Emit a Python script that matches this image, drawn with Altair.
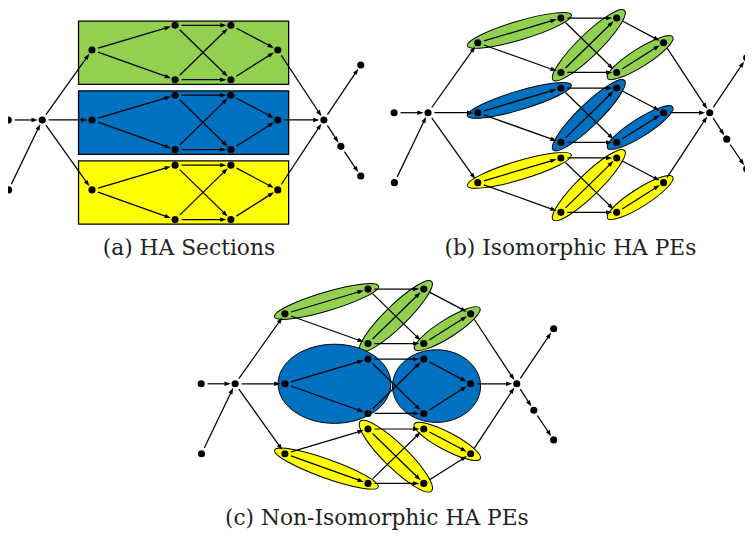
import math
import altair as alt
import pandas as pd

# ---------------- data ----------------
# Outer nodes of the graph (offsets in px from the first source node of a panel)
NODE_NAMES = ["src1", "src2", "hub", "sink", "out1", "out2", "out3"]
NODE_DX = [0.0, 0.3, 34.3, 319.0, 356.3, 336.2, 356.3]
NODE_DY = [0.0, 70.7, 0.0, 0.0, -55.6, 26.7, 56.7]

# The three HA sections (rows)
ROWS = ["green", "blue", "yellow"]
ROW_DY = [-70.7, 0.0, 70.7]
ROW_COLORS = ["#92D050", "#0070C0", "#FFFF00"]

# Nodes inside one section
SEC_NODES = ["n1", "n2", "n3", "n4", "n5", "n6"]
SEC_DX = [84.6, 168.6, 168.6, 225.0, 225.0, 272.4]
SEC_DY = [0.0, -25.0, 30.0, -25.0, 30.0, 0.0]

SEC_EDGES = [("n1", "n2"), ("n1", "n3"), ("n2", "n4"), ("n2", "n5"),
             ("n3", "n4"), ("n3", "n5"), ("n4", "n6"), ("n5", "n6")]
OUTER_EDGES = [("src1", "hub"), ("src2", "hub"), ("sink", "out1"),
               ("sink", "out2"), ("out2", "out3")]

# Panels
PANELS = ["a", "b", "c"]
PANEL_X = [8.3, 398.3, 203.3]
PANEL_Y = [118.3, 111.0, 385.0]
CAPTIONS = ["(a) HA Sections", "(b) Isomorphic HA PEs", "(c) Non-Isomorphic HA PEs"]
CAPTION_X = [190.9, 576.5, 380.8]
CAPTION_Y = [255.3, 255.0, 527.3]

# Section boxes of panel (a), relative to the row centre
BOX_X = [71.0, 283.4]
BOX_Y = [-29.3, 34.7]

# PE ellipses built around two nodes: panel, row, first node, second node, half-thickness
PE_PANEL = ["b"] * 9 + ["c"] * 3 + ["c"] * 3
PE_ROW = (["green"] * 3 + ["blue"] * 3 + ["yellow"] * 3 + ["green"] * 3 + ["yellow"] * 3)
PE_A = ["n1", "n3", "n5"] * 4 + ["n1", "n2", "n4"]
PE_B = ["n2", "n4", "n6"] * 4 + ["n3", "n5", "n6"]
PE_SEMI_MINOR = [9.5, 11.0, 9.0] * 4 + [9.5, 12.0, 9.0]
PE_EXTEND = 11.0

# Large blue PEs of panel (c): centre offsets, radii
BIG_DX = [134.7, 237.9]
BIG_DY = [0.0, 2.3]
BIG_RX = [57.0, 44.5]
BIG_RY = [40.0, 36.7]

# ---------------- build tables ----------------
nodes = {}
for p, ox, oy in zip(PANELS, PANEL_X, PANEL_Y):
    for n, dx, dy in zip(NODE_NAMES, NODE_DX, NODE_DY):
        nodes[(p, n)] = (ox + dx, oy + dy)
    for r, rdy in zip(ROWS, ROW_DY):
        for n, dx, dy in zip(SEC_NODES, SEC_DX, SEC_DY):
            nodes[(p, f"{r}_{n}")] = (ox + dx, oy + rdy + dy)

node_df = pd.DataFrame([{"x": v[0], "y": v[1]} for v in nodes.values()])

START_GAP, TIP_GAP, HEAD = 6.5, 4.5, 3.0
edge_rows, head_rows = [], []
for p in PANELS:
    pairs = list(OUTER_EDGES)
    for r in ROWS:
        pairs.append(("hub", f"{r}_n1"))
        pairs.append((f"{r}_n6", "sink"))
        pairs += [(f"{r}_{a}", f"{r}_{b}") for a, b in SEC_EDGES]
    for a, b in pairs:
        x1, y1 = nodes[(p, a)]
        x2, y2 = nodes[(p, b)]
        d = math.hypot(x2 - x1, y2 - y1)
        ux, uy = (x2 - x1) / d, (y2 - y1) / d
        tx, ty = x2 - TIP_GAP * ux, y2 - TIP_GAP * uy
        edge_rows.append({"x": x1 + START_GAP * ux, "y": y1 + START_GAP * uy,
                          "x2": tx - HEAD * ux, "y2": ty - HEAD * uy})
        head_rows.append({"x": tx, "y": ty,
                          "ang": math.degrees(math.atan2(uy, ux)) % 360})
edge_df = pd.DataFrame(edge_rows)
head_df = pd.DataFrame(head_rows)

color_of = dict(zip(ROWS, ROW_COLORS))


def ellipse_path(ratio):
    return (f"M -1 0 A 1 {ratio:.4f} 0 1 1 1 0 "
            f"A 1 {ratio:.4f} 0 1 1 -1 0 Z")


ell_rows = []
for p, r, a, b, sm in zip(PE_PANEL, PE_ROW, PE_A, PE_B, PE_SEMI_MINOR):
    x1, y1 = nodes[(p, f"{r}_{a}")]
    x2, y2 = nodes[(p, f"{r}_{b}")]
    rx = math.hypot(x2 - x1, y2 - y1) / 2 + PE_EXTEND
    ell_rows.append({"x": (x1 + x2) / 2, "y": (y1 + y2) / 2,
                     "ang": math.degrees(math.atan2(y2 - y1, x2 - x1)) % 360,
                     "size": (2 * rx) ** 2, "shape": ellipse_path(sm / rx),
                     "col": color_of[r], "ord": ROWS.index(r)})
cx, cy = PANEL_X[2], PANEL_Y[2]
for dx, dy, rx, ry in zip(BIG_DX, BIG_DY, BIG_RX, BIG_RY):
    ell_rows.append({"x": cx + dx, "y": cy + dy, "ang": 0.0,
                     "size": (2 * rx) ** 2, "shape": ellipse_path(ry / rx),
                     "col": color_of["blue"], "ord": 1})
ell_df = pd.DataFrame(ell_rows).sort_values("ord", kind="stable")

box_rows = []
for r, rdy, c in zip(ROWS, ROW_DY, ROW_COLORS):
    box_rows.append({"x": PANEL_X[0] + BOX_X[0], "x2": PANEL_X[0] + BOX_X[1],
                     "y": PANEL_Y[0] + rdy + BOX_Y[0], "y2": PANEL_Y[0] + rdy + BOX_Y[1],
                     "col": c})
box_df = pd.DataFrame(box_rows)

cap_df = pd.DataFrame({"x": CAPTION_X, "y": CAPTION_Y, "t": CAPTIONS})

# ---------------- chart ----------------
X = alt.X("x:Q", scale=alt.Scale(domain=[8, 745], nice=False, zero=False), axis=None)
Y = alt.Y("y:Q", scale=alt.Scale(domain=[8, 530], nice=False, zero=False, reverse=True), axis=None)

boxes = alt.Chart(box_df).mark_rect(stroke="black", strokeWidth=1.3, opacity=1).encode(
    x=X, x2="x2:Q", y=Y, y2="y2:Q", fill=alt.Fill("col:N", scale=None))

ellipses = alt.Chart(ell_df).mark_point(filled=True, stroke="black", strokeWidth=1,
                                        opacity=1, fillOpacity=1).encode(
    x=X, y=Y,
    shape=alt.Shape("shape:N", scale=None, legend=None),
    size=alt.Size("size:Q", scale=None, legend=None),
    angle=alt.Angle("ang:Q", scale=None),
    fill=alt.Fill("col:N", scale=None))

edges = alt.Chart(edge_df).mark_rule(color="black", strokeWidth=1.25).encode(
    x=X, y=Y, x2="x2:Q", y2="y2:Q")

heads = alt.Chart(head_df).mark_point(filled=True, color="black", opacity=1, size=40,
                                      shape="M 0 0 L -2 -0.7 L -2 0.7 Z").encode(
    x=X, y=Y, angle=alt.Angle("ang:Q", scale=None))

dots = alt.Chart(node_df).mark_circle(color="black", opacity=1, size=52).encode(x=X, y=Y)

captions = alt.Chart(cap_df).mark_text(font="DejaVu Serif", fontSize=22, align="center",
                                       baseline="alphabetic", color="#222222").encode(
    x=X, y=Y, text="t:N")

chart = alt.layer(boxes, ellipses, edges, heads, dots, captions).properties(
    width=737, height=522,
    padding={"left": 0, "top": 0, "right": 8, "bottom": 8},
    autosize=alt.AutoSizeParams(type="none"),
).configure_view(stroke=None)

chart.save("out.html", embed_options={"renderer": "svg", "actions": False})
